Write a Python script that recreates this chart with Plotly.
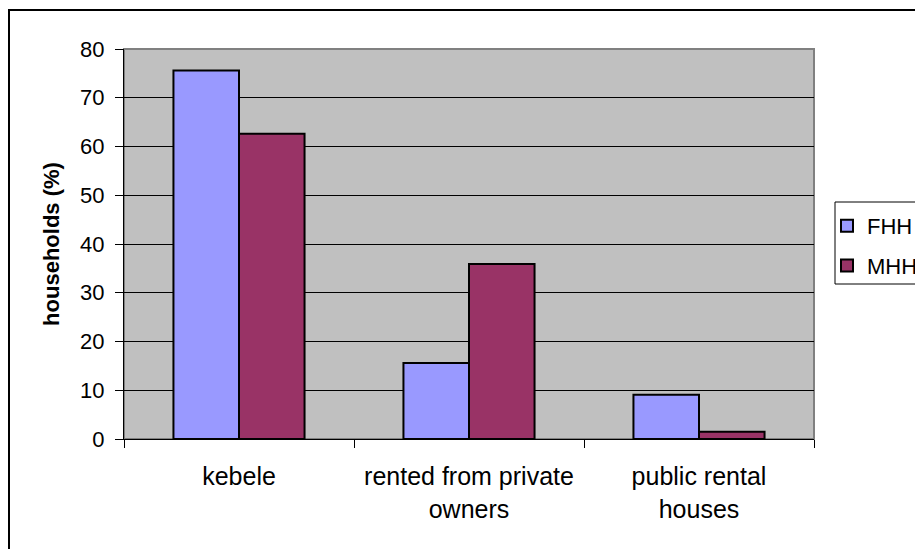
import plotly.graph_objects as go

# housing tenure by household head
categories = ["kebele", "rented from private<br>owners", "public rental<br>houses"]
fhh = [75.6, 15.6, 9.1]
mhh = [62.6, 35.9, 1.5]

FONT = "Liberation Sans, Arial, sans-serif"

fig = go.Figure()
fig.add_trace(go.Bar(
    x=categories, y=fhh, name="FHH", legendgroup="f",
    marker=dict(color="#9999FF", line=dict(color="black", width=2)),
))
fig.add_trace(go.Bar(
    x=categories, y=mhh, name="MHH", legendgroup="m",
    marker=dict(color="#993366", line=dict(color="black", width=2)),
))

# the page body has an 8px margin; the chart itself runs past the window
OFF = 8
W, H = 940, 560
L, R, T, B = 124 - OFF, 814 - OFF, 49 - OFF, 439 - OFF


def px(x):
    return (x - OFF - L) / (R - L)


def py(y):
    return (B - (y - OFF)) / (B - T)


# plot-area frame (grey top/right), outer chart border, legend box
fig.add_shape(type="rect", xref="paper", yref="paper", x0=0, x1=1, y0=0, y1=1,
              line=dict(color="#808080", width=2), layer="below")
fig.add_shape(type="rect", xref="paper", yref="paper",
              x0=px(9), x1=px(1000), y0=py(700), y1=py(10),
              line=dict(color="black", width=2))
fig.add_shape(type="rect", xref="paper", yref="paper",
              x0=px(835), x1=px(1000), y0=py(284), y1=py(202),
              line=dict(color="black", width=1), fillcolor="white", layer="below")

fig.update_layout(
    width=W, height=H,
    margin=dict(l=L, r=W - R, t=T, b=H - B),
    paper_bgcolor="white",
    plot_bgcolor="#C0C0C0",
    barmode="group",
    bargap=0.43,
    bargroupgap=0,
    font=dict(family=FONT, size=22, color="black"),
    legend=dict(
        x=px(827), y=py(205), xanchor="left", yanchor="top",
        borderwidth=0, bgcolor="rgba(0,0,0,0)",
        traceorder="grouped", tracegroupgap=8,
        font=dict(size=22), itemwidth=30,
    ),
    xaxis=dict(
        showline=True, linecolor="black", linewidth=1,
        ticks="outside", ticklen=8, tickcolor="black",
        tickson="boundaries", showgrid=False, automargin=False,
        tickfont=dict(size=25), ticklabelstandoff=15,
    ),
    yaxis=dict(
        range=[0, 80], dtick=10,
        showline=True, linecolor="black", linewidth=1,
        ticks="outside", ticklen=8, tickcolor="black",
        gridcolor="black", gridwidth=1, zeroline=False,
        ticklabelstandoff=6, automargin=False,
        title=dict(text="<b>households (%)</b>", font=dict(size=22), standoff=14),
    ),
)

fig.write_html("out.html")
